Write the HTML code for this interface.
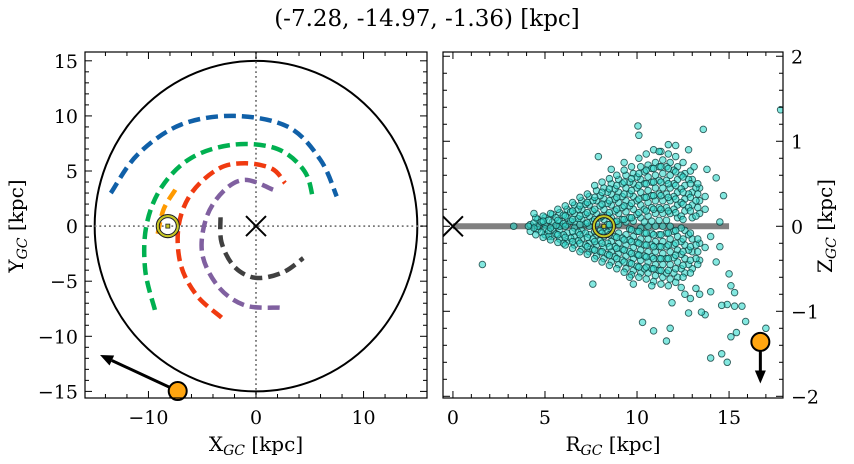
<!DOCTYPE html>
<html><head><meta charset="utf-8">
<style>
html,body{margin:0;padding:0;background:#fff;}
svg{display:block;font-family:"DejaVu Serif","Liberation Serif",serif;}
</style></head>
<body>
<svg id="fig" width="854" height="464" viewBox="0 0 854 464" xmlns="http://www.w3.org/2000/svg">
<text x="427" y="26" text-anchor="middle" font-size="23">(-7.28, -14.97, -1.36) [kpc]</text>
<g id="left"></g>
<g id="right"></g>
</svg>
<script>
// ---------- data ----------
const armBlueX = [-13.5,-11,-7,-2,3,6,7.5];
const armBlueY = [3,6.5,9.2,10,9,6,2.7];
const armGreenX = [-9.4,-10.3,-10.2,-8.8,-6,-2,2,4.5,5.3];
const armGreenY = [-7.6,-4,0,3.5,6.2,7.4,7,5,2.5];
const armRedX = [-3.2,-5.5,-7,-7.2,-6,-3.5,-1,1.5,2.7];
const armRedY = [-8.3,-6.3,-3.5,0,3,5.2,5.7,5.2,3.9];
const armPurpleX = [2.2,-1,-3.5,-5,-4.6,-3,-1,1.6];
const armPurpleY = [-7.4,-7.2,-5.5,-2.5,0.8,3.2,4.2,3.3];
const armGrayX = [-3.3,-3.2,-2,0,2.5,4.4];
const armGrayY = [0.8,-1.5,-3.7,-4.7,-4.2,-2.9];
const armOrangeX = [-7.5,-8.6,-9.2];
const armOrangeY = [3.3,1.5,-1];
const sunX = -8.2, sunY = 0;
const objX = -7.28, objY = -14.97, objR = 16.7, objZ = -1.36;
const velTipX = -14.5, velTipY = -11.7, velTipZ = -1.85;

const cloudR = [4.2,4.6,5.0,5.4,5.8,6.2,6.6,7.0,7.4,7.8,8.2,8.6,9.0,9.4,9.8,10.2,10.6,11.0,11.4,11.8,12.2,12.6,13.0,13.4,13.7];
const cloudZ = [
 [0.02,-0.06],[0.08,-0.04,0.0],[0.1,-0.1,0.02,-0.03],[0.14,-0.12,0.05,-0.04],
 [0.16,-0.15,0.06,-0.05,0.0],[0.2,-0.18,0.1,-0.08,0.02],[0.25,-0.22,0.15,-0.12,0.05,-0.02],
 [0.3,-0.27,0.2,-0.15,0.08,-0.05],[0.35,-0.3,0.25,-0.2,0.12,-0.1,0.0],
 [0.42,-0.35,0.3,-0.22,0.15,-0.1,0.03],[0.45,-0.38,0.32,-0.25,0.2,-0.12,0.08,-0.02],
 [0.5,-0.42,0.38,-0.3,0.25,-0.18,0.1,-0.05],[0.55,-0.45,0.4,-0.32,0.28,-0.2,0.15,-0.08,0.02],
 [0.6,-0.5,0.45,-0.35,0.3,-0.22,0.17,-0.1,0.05],[0.62,-0.52,0.5,-0.38,0.35,-0.25,0.2,-0.12,0.06],
 [0.7,-0.55,0.55,-0.4,0.4,-0.28,0.25,-0.15,0.1,-0.02],[0.72,-0.55,0.58,-0.42,0.42,-0.3,0.28,-0.15,0.12,0],
 [0.75,-0.58,0.6,-0.45,0.45,-0.3,0.3,-0.18,0.15,0],[0.78,-0.6,0.62,-0.45,0.45,-0.32,0.3,-0.18,0.15,0],
 [0.75,-0.62,0.6,-0.45,0.45,-0.3,0.3,-0.15,0.15,0],[0.7,-0.6,0.55,-0.42,0.4,-0.28,0.25,-0.12,0.1],
 [0.62,-0.55,0.48,-0.38,0.32,-0.22,0.18,-0.05],[0.55,-0.5,0.4,-0.3,0.25,-0.15,0.1],
 [0.45,-0.4,0.3,-0.2,0.15],[0.35,-0.25,0.2]
];
const cloudR2 = [4.4,4.8,5.2,5.6,6.0,6.4,6.8,7.2,7.6,8.0,8.4,8.8,9.2,9.6,10.0,10.4,10.8,11.2,11.6,12.0,12.4,12.8,13.2];
const cloudZ2 = [
 [0.04,-0.02],[0.05,-0.07],[0.07,-0.06,-0.12],[0.1,-0.09,0.01],[0.13,-0.1,0.03,-0.2],
 [0.17,-0.14,0.06],[0.2,-0.17,0.09,-0.07],[0.26,-0.22,0.14,-0.08,0.03],[0.3,-0.27,0.18,-0.15,0.06],
 [0.36,-0.3,0.24,-0.17,0.1,-0.05],[0.4,-0.33,0.27,-0.2,0.13,-0.07,0.02],[0.44,-0.36,0.32,-0.24,0.18,-0.12,0.05],
 [0.5,-0.4,0.35,-0.27,0.22,-0.14,0.08],[0.52,-0.43,0.38,-0.3,0.24,-0.16,0.1,-0.03],
 [0.58,-0.47,0.45,-0.33,0.3,-0.19,0.14,-0.06],[0.64,-0.5,0.5,-0.35,0.34,-0.22,0.2,-0.08,0.05],
 [0.68,-0.5,0.52,-0.36,0.36,-0.22,0.22,-0.08,0.06],[0.7,-0.52,0.54,-0.38,0.38,-0.24,0.22,-0.1,0.07],
 [0.7,-0.55,0.54,-0.38,0.38,-0.24,0.22,-0.08,0.07],[0.66,-0.55,0.5,-0.37,0.35,-0.22,0.2,-0.06],
 [0.6,-0.5,0.44,-0.33,0.28,-0.18,0.12,-0.02],[0.55,-0.45,0.38,-0.28,0.22,-0.1],[0.45,-0.38,0.3,-0.22,0.12]
];
const cloudR3 = [4.5,4.9,5.3,5.7,6.1,6.5,6.9,7.3,7.7,8.1,8.5,8.9,9.3,9.7,10.1,10.5,10.9,11.3,11.7,12.1,12.5,12.9,13.3];
const cloudZ3 = [
 [0.1,-0.1],[0.12,-0.13,0.06],[0.15,-0.16,-0.02],[0.2,-0.19,0.07,-0.1],[0.24,-0.22,0.12,-0.13,0.0],
 [0.28,-0.26,0.18,-0.18,0.08,-0.06],[0.34,-0.3,0.24,-0.2,0.12,-0.1,0.02],[0.38,-0.33,0.28,-0.24,0.16,-0.13,0.04],
 [0.48,-0.38,0.34,-0.28,0.2,-0.18,0.08,-0.06],[0.52,-0.42,0.4,-0.3,0.26,-0.2,0.12,-0.08],
 [0.56,-0.46,0.44,-0.34,0.3,-0.24,0.16,-0.1,0.02],[0.6,-0.5,0.48,-0.38,0.34,-0.26,0.2,-0.13,0.06],
 [0.66,-0.54,0.52,-0.42,0.38,-0.28,0.24,-0.16,0.08],[0.7,-0.57,0.56,-0.44,0.42,-0.32,0.27,-0.18,0.1,-0.04],
 [0.8,-0.6,0.62,-0.48,0.48,-0.34,0.32,-0.2,0.16,-0.06],[0.85,-0.62,0.66,-0.48,0.5,-0.36,0.34,-0.22,0.18,-0.08],
 [0.9,-0.65,0.68,-0.5,0.52,-0.38,0.36,-0.24,0.2,-0.1],[0.88,-0.68,0.7,-0.52,0.52,-0.38,0.36,-0.24,0.2,-0.1],
 [0.85,-0.7,0.68,-0.52,0.5,-0.38,0.34,-0.22,0.18,-0.08],[0.82,-0.66,0.64,-0.5,0.48,-0.34,0.32,-0.2,0.16,-0.05],
 [0.75,-0.6,0.58,-0.46,0.4,-0.3,0.26,-0.15,0.08],[0.65,-0.55,0.5,-0.4,0.34,-0.24,0.18,-0.08],[0.5,-0.45,0.38,-0.3,0.22,-0.15]
];
const outR = [10.05,10.1,13.6,11.7,7.9,12.8,8.6,17.8,1.6,4.4,3.3,4.1,7.6,9.8,10.3,10.9,11.8,11.6,14.0,14.6,14.9,15.1,15.4,15.9,17.0,15.7,15.3,14.9,14.6,15.0,15.1,15.3,14.0,13.7,13.5,12.8,12.6,12.9,13.4,11.9,13.2,14.7,13.8,14.3,14.5,14.5,14.3,14.0,9.3,12.1,11.2,9.6,10.8,12.4,13.1];
const outZ = [1.18,1.07,1.14,0.96,0.82,0.9,0.67,1.37,-0.45,0.15,0.0,0.0,-0.68,-0.68,-1.13,-1.23,-1.2,-1.35,-1.55,-1.5,-1.6,-1.3,-1.25,-1.12,-1.2,-0.94,-0.94,-0.92,-0.93,-0.56,-0.7,-0.78,-0.77,-1.04,-1.01,-1.02,-0.8,-0.85,-0.8,-0.9,-0.73,0.36,0.67,0.57,0.05,-0.24,-0.42,-0.12,0.75,0.95,0.88,-0.6,-0.7,-0.72,0.7];

// ---------- helpers ----------
const NS = "http://www.w3.org/2000/svg";
function mk(parent, tag, attrs){const e=document.createElementNS(NS,tag);for(const k in attrs)e.setAttribute(k,attrs[k]);parent.appendChild(e);return e;}

const L = {x0:85,x1:427,y0:52,y1:398,xmin:-15.9,xmax:15.9,ymin:-15.6,ymax:15.8};
const lx = v => L.x0+(v-L.xmin)/(L.xmax-L.xmin)*(L.x1-L.x0);
const ly = v => L.y1-(v-L.ymin)/(L.ymax-L.ymin)*(L.y1-L.y0);
const R = {x0:443,x1:783,y0:52,y1:398,xmin:-0.54,xmax:17.93,ymin:-2.02,ymax:2.05};
const rx = v => R.x0+(v-R.xmin)/(R.xmax-R.xmin)*(R.x1-R.x0);
const ry = v => R.y1-(v-R.ymin)/(R.ymax-R.ymin)*(R.y1-R.y0);

const gl = document.getElementById('left');
const gr = document.getElementById('right');

function ticks(g, A, fx, fy, xMaj, xMin, yMaj, yMin, opts){
  const tg = mk(g,'g',{stroke:'#000','stroke-width':1});
  
  
  for(let v=Math.ceil(A.xmin/xMin)*xMin; v<=A.xmax+1e-9; v+=xMin){
    const isMaj = Math.abs(v/xMaj-Math.round(v/xMaj))<1e-6; const len=isMaj?7:4; const X=fx(v);
    mk(tg,'line',{x1:X,x2:X,y1:A.y1,y2:A.y1-len}); mk(tg,'line',{x1:X,x2:X,y1:A.y0,y2:A.y0+len});
    if(isMaj){const t=mk(g,'text',{x:X,y:A.y1+26,'text-anchor':'middle','font-size':19});t.textContent=String(Math.round(v)).replace('-','\u2212');
      
      }
  }
  for(let v=Math.ceil(A.ymin/yMin-1e-9)*yMin; v<=A.ymax+1e-9; v+=yMin){
    const isMaj = Math.abs(v/yMaj-Math.round(v/yMaj))<1e-6; const len=isMaj?7:4; const Y=fy(v);
    mk(tg,'line',{x1:A.x0,x2:A.x0+len,y1:Y,y2:Y}); mk(tg,'line',{x1:A.x1,x2:A.x1-len,y1:Y,y2:Y});
    if(isMaj){const lab=String(Math.round(v)).replace('-','\u2212');
      let t;
      if(opts.right) t=mk(g,'text',{x:A.x1+8,y:Y+7,'text-anchor':'start','font-size':19});
      else t=mk(g,'text',{x:A.x0-7,y:Y+7,'text-anchor':'end','font-size':19});
      t.textContent=lab;
      
      }
  }
}

// ===== LEFT PANEL =====
const clipL = mk(gl,'clipPath',{id:'cl'}); mk(clipL,'rect',{x:L.x0,y:L.y0,width:L.x1-L.x0,height:L.y1-L.y0});
const pl = mk(gl,'g',{'clip-path':'url(#cl)'});
const bigC = mk(pl,'ellipse',{cx:lx(0),cy:ly(0),rx:lx(15)-lx(0),ry:ly(0)-ly(15),fill:'none',stroke:'#000','stroke-width':2});


const vline = mk(pl,'line',{x1:lx(0),x2:lx(0),y1:L.y0,y2:L.y1,stroke:'#777','stroke-width':1.8,'stroke-dasharray':'1.8 3'});


const hline = mk(pl,'line',{x1:L.x0,x2:L.x1,y1:ly(0),y2:ly(0),stroke:'#777','stroke-width':1.8,'stroke-dasharray':'1.8 3'});



function smoothPath(xs,ys){
  const p=xs.map((x,i)=>[lx(x),ly(ys[i])]);
  let d=`M${p[0][0]},${p[0][1]}`;
  for(let i=0;i<p.length-1;i++){
    const p0=p[i-1]||p[i],p1=p[i],p2=p[i+1],p3=p[i+2]||p2;
    const c1=[p1[0]+(p2[0]-p0[0])/6,p1[1]+(p2[1]-p0[1])/6];
    const c2=[p2[0]-(p3[0]-p1[0])/6,p2[1]-(p3[1]-p1[1])/6];
    d+=` C${c1[0]},${c1[1]} ${c2[0]},${c2[1]} ${p2[0]},${p2[1]}`;
  }
  return d;
}
const arms=[[armBlueX,armBlueY,'#1060a8','arm-blue'],[armGreenX,armGreenY,'#00b050','arm-green'],[armRedX,armRedY,'#f03a10','arm-red'],[armPurpleX,armPurpleY,'#8060a0','arm-purple'],[armGrayX,armGrayY,'#404040','arm-gray'],[armOrangeX,armOrangeY,'#ff9a00','arm-orange']];
arms.forEach(a=>{
  const p=mk(pl,'path',{d:smoothPath(a[0],a[1]),fill:'none',stroke:a[2],'stroke-width':4.5,'stroke-dasharray':'12 6'});
  
  
});
const gcL = mk(pl,'path',{d:`M${lx(0)-10},${ly(0)-10}L${lx(0)+10},${ly(0)+10}M${lx(0)-10},${ly(0)+10}L${lx(0)+10},${ly(0)-10}`,stroke:'#000','stroke-width':2});


function sun(g,X,Y){
  const s=mk(g,'g',{});
  
  
  mk(s,'circle',{cx:X,cy:Y,r:11.5,fill:'none',stroke:'#222','stroke-width':1.2});
  mk(s,'circle',{cx:X,cy:Y,r:10,fill:'none',stroke:'#c8c820','stroke-width':2});
  mk(s,'circle',{cx:X,cy:Y,r:8.5,fill:'none',stroke:'#222','stroke-width':1});
  mk(s,'rect',{x:X-2,y:Y-2,width:4,height:4,fill:'#c8c820',stroke:'#222','stroke-width':0.8});
}
sun(pl,lx(sunX),ly(sunY));
function arrow(g,x1,y1,x2,y2,name){
  const a=mk(g,'g',{});
  
  
  const ang=Math.atan2(y2-y1,x2-x1),hl=13,hw=5.5;
  const bx=x2-hl*Math.cos(ang),by=y2-hl*Math.sin(ang);
  mk(a,'line',{x1:x1,y1:y1,x2:bx,y2:by,stroke:'#000','stroke-width':3});
  mk(a,'polygon',{points:`${x2},${y2} ${bx-hw*Math.sin(ang)},${by+hw*Math.cos(ang)} ${bx+hw*Math.sin(ang)},${by-hw*Math.cos(ang)}`,fill:'#000'});
}
arrow(gl,lx(objX),ly(objY),lx(velTipX),ly(velTipY),'velocity-arrow-xy');
const objL=mk(gl,'circle',{cx:lx(objX),cy:ly(objY),r:9,fill:'#ffa510',stroke:'#000','stroke-width':2});


mk(gl,'rect',{x:L.x0,y:L.y0,width:L.x1-L.x0,height:L.y1-L.y0,fill:'none',stroke:'#000','stroke-width':1.2});
ticks(gl,L,lx,ly,10,2,5,1,{right:false});
const xlL=mk(gl,'text',{x:256,y:451,'text-anchor':'middle','font-size':20});
xlL.innerHTML='X<tspan font-size="14" font-style="italic" dy="4">GC</tspan><tspan dy="-4"> [kpc]</tspan>';


const ylL=mk(gl,'text',{x:0,y:0,'text-anchor':'middle','font-size':20,transform:'translate(23,226) rotate(-90)'});
ylL.innerHTML='Y<tspan font-size="14" font-style="italic" dy="4">GC</tspan><tspan dy="-4"> [kpc]</tspan>';



// ===== RIGHT PANEL =====
const clipR = mk(gr,'clipPath',{id:'cr'}); mk(clipR,'rect',{x:R.x0,y:R.y0,width:R.x1-R.x0,height:R.y1-R.y0});
const pr = mk(gr,'g',{'clip-path':'url(#cr)'});
const disk=mk(pr,'line',{x1:rx(0),x2:rx(15),y1:ry(0),y2:ry(0),stroke:'#808080','stroke-width':6});


const sg = mk(pr,'g',{fill:'#30d8cc','fill-opacity':0.6,stroke:'#0d3a38','stroke-width':0.9,'stroke-opacity':0.8});


function dot(r,z){const c=mk(sg,'circle',{cx:rx(r),cy:ry(z),r:3.3});
  
  }
cloudR.forEach((r,i)=>cloudZ[i].forEach(z=>dot(r,z)));
cloudR2.forEach((r,i)=>cloudZ2[i].forEach(z=>dot(r,z)));
cloudR3.forEach((r,i)=>cloudZ3[i].forEach(z=>dot(r,z)));
outR.forEach((r,i)=>dot(r,outZ[i]));
const gcR = mk(pr,'path',{d:`M${rx(0)-10},${ry(0)-10}L${rx(0)+10},${ry(0)+10}M${rx(0)-10},${ry(0)+10}L${rx(0)+10},${ry(0)-10}`,stroke:'#000','stroke-width':2});


sun(pr,rx(-sunX),ry(0));
arrow(pr,rx(objR),ry(objZ),rx(objR),ry(velTipZ),'velocity-arrow-rz');
const objRz=mk(pr,'circle',{cx:rx(objR),cy:ry(objZ),r:9,fill:'#ffa510',stroke:'#000','stroke-width':2});


mk(gr,'rect',{x:R.x0,y:R.y0,width:R.x1-R.x0,height:R.y1-R.y0,fill:'none',stroke:'#000','stroke-width':1.2});
ticks(gr,R,rx,ry,5,1,1,0.2,{right:true});
const xlR=mk(gr,'text',{x:613,y:451,'text-anchor':'middle','font-size':20});
xlR.innerHTML='R<tspan font-size="14" font-style="italic" dy="4">GC</tspan><tspan dy="-4"> [kpc]</tspan>';


const ylR=mk(gr,'text',{x:0,y:0,'text-anchor':'middle','font-size':20,transform:'translate(832,226) rotate(-90)'});
ylR.innerHTML='Z<tspan font-size="14" font-style="italic" dy="4">GC</tspan><tspan dy="-4"> [kpc]</tspan>';


</script>
</body></html>
